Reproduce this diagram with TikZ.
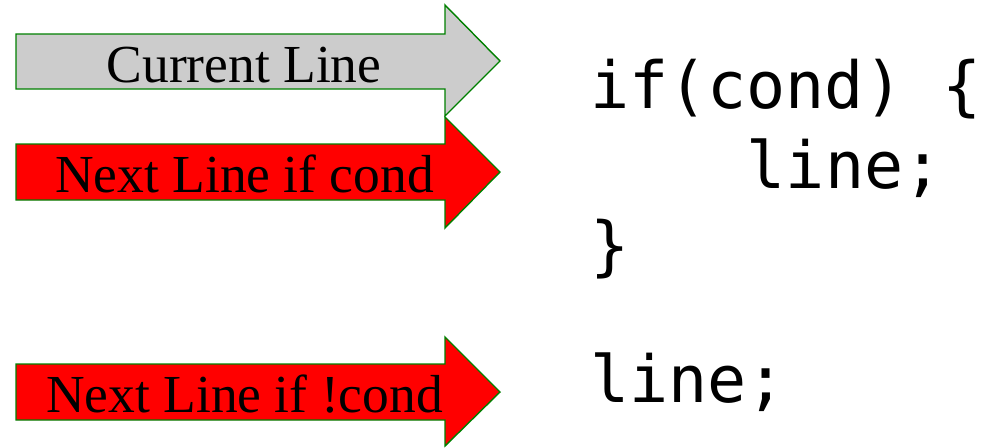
\documentclass[tikz,border=0pt]{standalone}
\usepackage{fontspec}
\setmainfont{Liberation Serif}
\newfontfamily\codefont{DejaVu Sans Mono}
\definecolor{arrgreen}{HTML}{008000}
\definecolor{arrgray}{HTML}{CCCCCC}
\definecolor{arrred}{HTML}{FF0000}
\begin{document}
\begin{tikzpicture}[x=1pt,y=-1pt,
  arrowshape/.style={draw=arrgreen,line width=1.4pt,line join=miter},
  lbl/.style={inner sep=0pt,anchor=base,font=\fontsize{53.5}{53.5}\selectfont},
  code/.style={inner sep=0pt,anchor=base west,font=\codefont\fontsize{65}{65}\selectfont}]
\useasboundingbox (0,0) rectangle (990,447);
% gray arrow
\filldraw[arrowshape,fill=arrgray] (16,34) -- (445,34) -- (445,5) -- (500,61) -- (445,116) -- (445,89) -- (16,89) -- cycle;
% red arrow 1
\filldraw[arrowshape,fill=arrred] (16,144) -- (445,144) -- (445,117) -- (500,172) -- (445,228) -- (445,200) -- (16,200) -- cycle;
% red arrow 2
\filldraw[arrowshape,fill=arrred] (16,364) -- (445,364) -- (445,337) -- (500,392) -- (445,446) -- (445,420) -- (16,420) -- cycle;
\node[lbl] (cur) at (244,82) {Current Line};
\node[lbl] (nxt) at (244.5,192) {Next Line if cond};
\node[lbl] (nnot) at (244.5,412) {Next Line if !cond};
\node[code] (c1) at (590,108) {if(cond) \{};
\node[code] (c2) at (590,188) {\ \ \ \ line;};
\node[code] (c3) at (590,268) {\}};
\node[code] (c4) at (590,402) {line;};
\end{tikzpicture}
\end{document}
